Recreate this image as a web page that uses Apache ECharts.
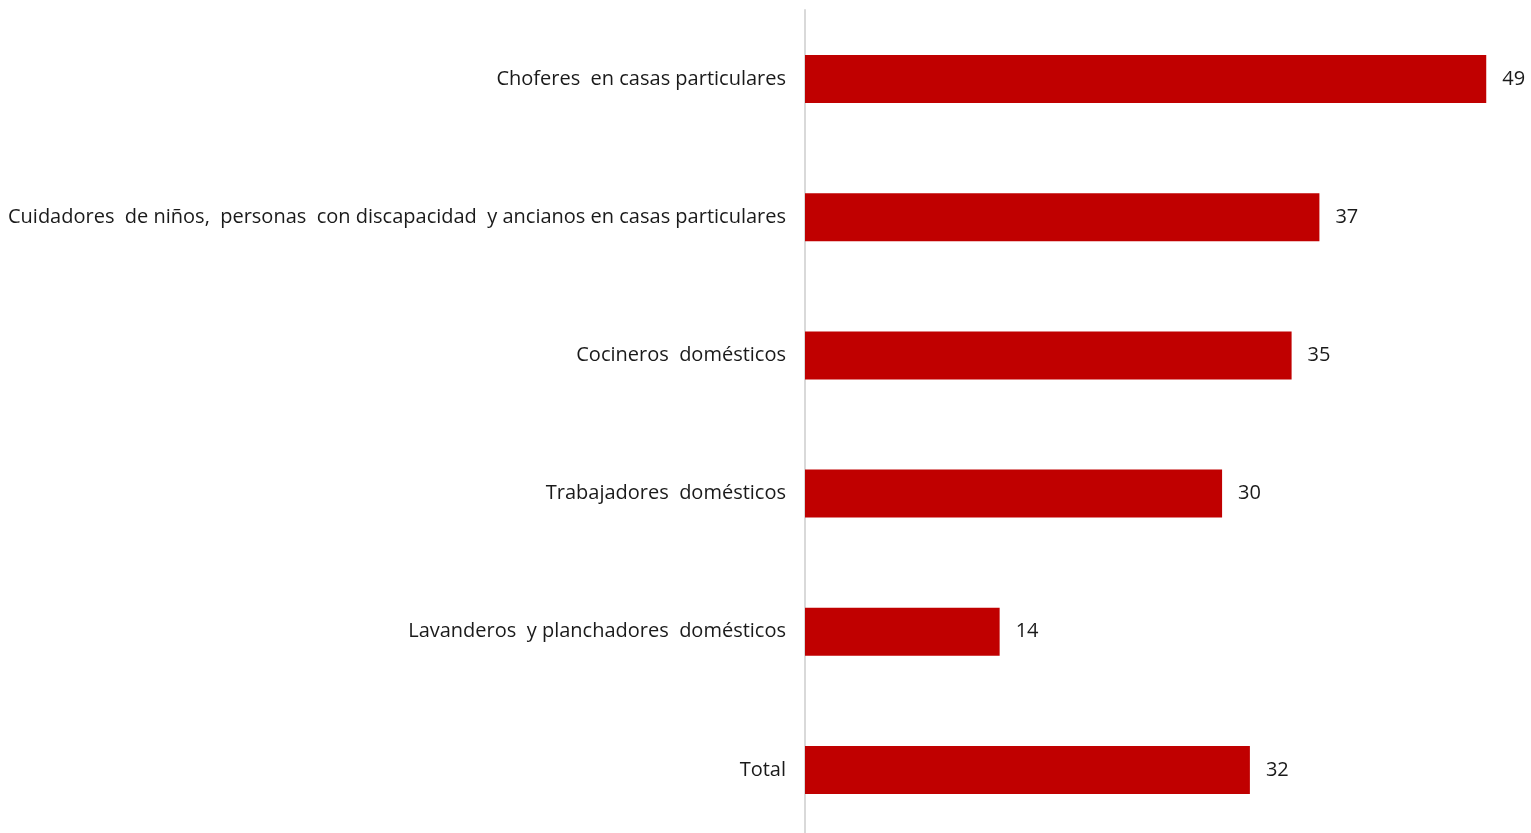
<!DOCTYPE html>
<html><head><meta charset="utf-8">
<script src="https://cdn.jsdelivr.net/npm/echarts@6/dist/echarts.min.js"></script>
<style>html,body{margin:0;padding:0;background:#fff;overflow:hidden}#c{width:1531px;height:845px}</style>
</head><body><div id="c"></div>
<script>
const categories = [
  "Choferes  en casas particulares",
  "Cuidadores  de niños,  personas  con discapacidad  y ancianos en casas particulares",
  "Cocineros  domésticos",
  "Trabajadores  domésticos",
  "Lavanderos  y planchadores  domésticos",
  "Total"
];
const values = [49, 37, 35, 30, 14, 32];

const chart = echarts.init(document.getElementById('c'));
chart.setOption({
  animation: false,
  grid: { left: 805, right: 10, top: 10, height: 829, containLabel: false },
  xAxis: { type: 'value', min: 0, max: 51.5, show: false },
  yAxis: {
    type: 'category', data: categories, inverse: true,
    axisLine: { show: true, lineStyle: { color: '#d9d9d9', width: 2 } },
    axisTick: { show: false },
    axisLabel: { margin: 19, fontSize: 20, color: '#1a1a1a', fontFamily: '"Open Sans", sans-serif' }
  },
  series: [{
    type: 'bar', data: values, barWidth: 48,
    itemStyle: { color: '#c00000' },
    label: { show: true, position: 'right', distance: 16, fontSize: 20, color: '#1a1a1a', fontFamily: '"Open Sans", sans-serif' }
  }]
});
</script></body></html>
